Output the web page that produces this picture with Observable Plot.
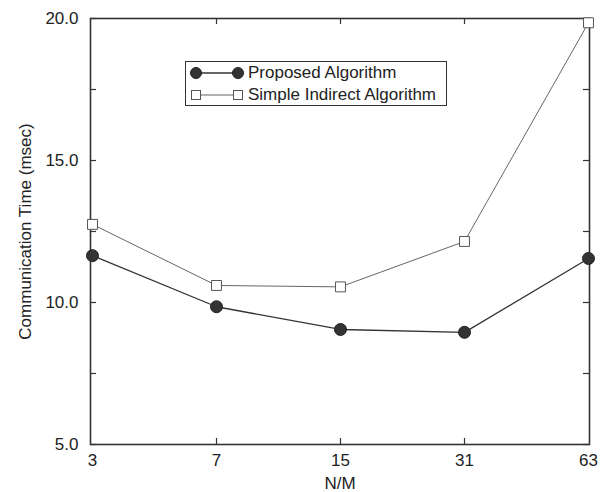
<!DOCTYPE html>
<html>
<head>
<meta charset="utf-8">
<script src="https://cdn.jsdelivr.net/npm/d3@7"></script>
<script src="https://cdn.jsdelivr.net/npm/@observablehq/plot@0.6"></script>
<style>
  html, body { margin: 0; padding: 0; background: #fff; }
  #wrap { position: relative; width: 600px; height: 492px; font-family: "Liberation Sans", Arial, sans-serif; }
  #legend { position: absolute; left: 185px; top: 61px; width: 262px; height: 45px; border: 1.5px solid #333; background: #fff; box-sizing: border-box; }
  .row { position: absolute; left: 0; height: 20px; display: flex; align-items: center; font-size: 17px; color: #222; }
  .row svg { display: block; }
</style>
</head>
<body>
<div id="wrap"></div>
<script>
const nm = ["3", "7", "15", "31", "63"];
const proposed = [11.65, 9.85, 9.05, 8.95, 11.55];
const simple = [12.75, 10.6, 10.55, 12.15, 19.85];
const seriesNames = ["Proposed Algorithm", "Simple Indirect Algorithm"];
const yLabelTicks = [5, 10, 15, 20];
const yMinorTicks = [5, 7.5, 10, 12.5, 15, 17.5, 20];
const xInnerTicks = ["7", "15", "31"];

const rowsP = nm.map((x, i) => ({x, y: proposed[i]}));
const rowsS = nm.map((x, i) => ({x, y: simple[i]}));

const W = 600, H = 492;
const mL = 90, mR = 11, mT = 18, mB = 48;
const innerW = W - mL - mR, innerH = H - mT - mB;

const chart = Plot.plot({
  width: W,
  height: H,
  marginLeft: mL,
  marginRight: mR,
  marginTop: mT,
  marginBottom: mB,
  style: {fontFamily: "Liberation Sans, Arial, sans-serif", fontSize: "16px", color: "#222", background: "#fff"},
  x: {type: "point", domain: nm, padding: 0},
  y: {domain: [5, 20]},
  marks: [
    Plot.axisY(yLabelTicks, {tickSize: 0, tickPadding: 12, tickFormat: d3.format(".1f"), fontSize: 17,
      label: "Communication Time (msec)", labelAnchor: "center", labelOffset: 72, labelArrow: "none"}),
    Plot.axisX(nm, {tickSize: 0, tickPadding: 9, fontSize: 17,
      label: "N/M", labelAnchor: "center", labelOffset: 44, labelArrow: "none"}),
    // inner ticks left / right
    Plot.ruleY(yMinorTicks, {y: d => d, insetRight: innerW - 6, stroke: "#333", strokeWidth: 1.2}),
    Plot.ruleY(yMinorTicks, {y: d => d, insetLeft: innerW - 6, stroke: "#333", strokeWidth: 1.2}),
    // inner ticks bottom / top
    Plot.ruleX(xInnerTicks, {x: d => d, insetTop: innerH - 6, stroke: "#333", strokeWidth: 1.2}),
    Plot.ruleX(xInnerTicks, {x: d => d, insetBottom: innerH - 6, stroke: "#333", strokeWidth: 1.2}),
    Plot.frame({stroke: "#333", strokeWidth: 1.6}),
    Plot.line(rowsS, {x: "x", y: "y", stroke: "#666", strokeWidth: 1}),
    Plot.dot(rowsS, {x: "x", y: "y", symbol: "square", r: 5.6, stroke: "#555", strokeWidth: 1, fill: "#fff"}),
    Plot.line(rowsP, {x: "x", y: "y", stroke: "#333", strokeWidth: 1.3}),
    Plot.dot(rowsP, {x: "x", y: "y", r: 6, fill: "#333", stroke: "#222", strokeWidth: 1})
  ]
});

const wrap = document.getElementById("wrap");
wrap.appendChild(chart);

// legend
const legend = document.createElement("div");
legend.id = "legend";
const swatch = (kind) => {
  const m = kind === 0
    ? `<circle cx="10" cy="10" r="5.5" fill="#333" stroke="#222"/><circle cx="52" cy="10" r="5.5" fill="#333" stroke="#222"/>`
    : `<rect x="5.5" y="5.5" width="9" height="9" fill="#fff" stroke="#555"/><rect x="47.5" y="5.5" width="9" height="9" fill="#fff" stroke="#555"/>`;
  const line = kind === 0
    ? `<line x1="10" x2="52" y1="10" y2="10" stroke="#333" stroke-width="1.3"/>`
    : `<line x1="14.5" x2="47.5" y1="10" y2="10" stroke="#666" stroke-width="1"/>`;
  return `<svg width="60" height="20">${line}${m}</svg>`;
};
seriesNames.forEach((name, i) => {
  const row = document.createElement("div");
  row.className = "row";
  row.style.top = (i === 0 ? 1 : 23) + "px";
  row.innerHTML = swatch(i) + `<span style="margin-left:2px">${name}</span>`;
  legend.appendChild(row);
});
wrap.appendChild(legend);
</script>
</body>
</html>
